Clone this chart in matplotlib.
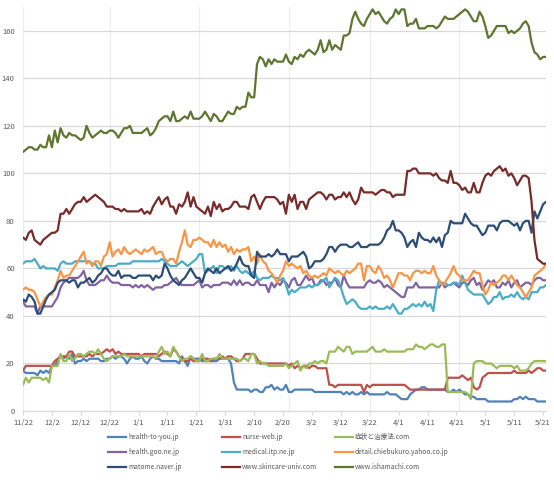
import pandas as pd
import matplotlib
matplotlib.use("Agg")
import matplotlib.pyplot as plt
from matplotlib.lines import Line2D

plt.rcParams["font.family"] = ["Noto Sans CJK JP", "DejaVu Sans"]

# daily values, 11/22 .. 5/22
DATES = pd.date_range("2014-11-22", "2015-05-22", freq="D")

SITES = ["health-to-you.jp", "nurse-web.jp", "症状と治療法.com",
         "health.goo.ne.jp", "medical.itp.ne.jp", "detail.chiebukuro.yahoo.co.jp",
         "matome.naver.jp", "www.skincare-univ.com", "www.ishamachi.com"]
COLORS = ["#4F81BD", "#C0504D", "#9BBB59",
          "#8064A2", "#4BACC6", "#F79646",
          "#2C4D75", "#772C2A", "#5F7530"]

HEALTH_TO_YOU = [
    17, 16, 16, 16, 16, 15, 17, 16, 17, 16,
    19, 19, 21, 23, 22, 23, 22, 24, 20, 21,
    21, 22, 21, 22, 22, 22, 22, 21, 21, 22,
    22, 23, 22, 23, 23, 22, 20, 22, 23, 22,
    22, 23, 21, 20, 22, 23, 22, 22, 21, 21,
    21, 21, 21, 21, 20, 23, 21, 19, 23, 22,
    22, 22, 21, 21, 21, 21, 21, 21, 22, 22,
    22, 22, 20, 12, 9, 9, 9, 9, 9, 8,
    9, 9, 8, 8, 10, 10, 11, 9, 10, 9,
    9, 11, 8, 8, 9, 9, 9, 9, 9, 9,
    9, 8, 8, 8, 8, 8, 8, 8, 8, 8,
    8, 7, 8, 7, 8, 7, 7, 8, 7, 8,
    7, 7, 7, 7, 7, 7, 8, 7, 7, 7,
    6, 5, 5, 5, 7, 8, 9, 9, 10, 10,
    9, 9, 9, 9, 9, 9, 9, 8, 8, 9,
    8, 9, 8, 7, 7, 6, 6, 5, 5, 5,
    5, 4, 4, 4, 4, 4, 4, 4, 4, 4,
    5, 5, 6, 5, 6, 5, 5, 5, 4, 4,
    4, 4,
]
NURSE_WEB = [
    17, 19, 19, 19, 19, 19, 19, 19, 19, 19,
    19, 21, 22, 23, 23, 23, 25, 25, 23, 23,
    23, 23, 23, 24, 23, 24, 24, 24, 25, 26,
    25, 26, 24, 25, 24, 24, 24, 24, 24, 24,
    24, 23, 24, 24, 24, 24, 24, 23, 24, 25,
    24, 23, 26, 25, 23, 22, 21, 21, 22, 21,
    21, 21, 22, 22, 22, 21, 22, 22, 22, 23,
    22, 23, 23, 22, 21, 21, 22, 24, 24, 24,
    24, 22, 20, 20, 20, 20, 20, 20, 20, 20,
    20, 20, 19, 20, 18, 19, 18, 19, 19, 18,
    19, 19, 18, 18, 18, 18, 11, 11, 10, 11,
    11, 11, 11, 11, 11, 11, 11, 11, 8, 11,
    10, 11, 11, 11, 11, 11, 11, 11, 11, 11,
    11, 11, 11, 10, 9, 9, 9, 9, 9, 9,
    9, 9, 9, 9, 9, 9, 9, 14, 14, 14,
    14, 14, 15, 14, 13, 14, 10, 9, 10, 14,
    15, 16, 16, 16, 16, 16, 16, 16, 16, 16,
    17, 16, 16, 16, 16, 17, 16, 17, 18, 18,
    17, 17,
]
SHOJO = [
    11, 14, 12, 14, 14, 14, 14, 13, 14, 12,
    19, 19, 19, 24, 21, 21, 24, 21, 22, 24,
    24, 23, 24, 25, 25, 24, 26, 24, 22, 21,
    22, 23, 23, 23, 23, 24, 23, 23, 23, 23,
    23, 23, 23, 23, 23, 23, 22, 25, 27, 24,
    25, 23, 27, 25, 23, 21, 22, 22, 23, 22,
    21, 21, 24, 21, 21, 22, 22, 22, 24, 22,
    22, 22, 22, 22, 22, 21, 22, 22, 21, 24,
    24, 20, 21, 20, 20, 19, 19, 19, 19, 19,
    19, 20, 18, 19, 20, 21, 17, 19, 18, 20,
    20, 21, 20, 21, 21, 20, 25, 25, 25, 27,
    26, 25, 27, 27, 24, 25, 25, 25, 25, 25,
    26, 27, 25, 25, 25, 26, 25, 25, 25, 25,
    25, 25, 25, 26, 26, 26, 28, 27, 27, 26,
    27, 28, 28, 27, 27, 28, 28, 8, 8, 8,
    8, 8, 8, 8, 7, 5, 20, 21, 21, 21,
    20, 20, 20, 19, 18, 19, 19, 19, 19, 19,
    18, 19, 17, 17, 17, 18, 20, 21, 21, 21,
    21, 21,
]
HEALTH_GOO = [
    46, 44, 44, 44, 44, 41, 44, 44, 44, 44,
    44, 46, 48, 52, 54, 55, 56, 56, 56, 56,
    57, 59, 55, 53, 53, 53, 54, 55, 55, 57,
    55, 54, 54, 54, 53, 53, 53, 53, 52, 53,
    52, 53, 52, 53, 52, 51, 52, 52, 52, 53,
    53, 54, 55, 56, 54, 53, 53, 53, 53, 53,
    54, 55, 52, 53, 53, 52, 53, 53, 53, 54,
    54, 54, 53, 55, 53, 55, 53, 54, 54, 53,
    53, 55, 53, 53, 53, 50, 54, 52, 54, 53,
    55, 54, 52, 55, 56, 53, 53, 55, 57, 55,
    56, 53, 53, 55, 55, 53, 54, 54, 56, 53,
    52, 57, 54, 52, 52, 52, 52, 52, 52, 54,
    55, 54, 54, 55, 54, 52, 53, 52, 51, 50,
    49, 48, 48, 52, 52, 52, 54, 52, 52, 52,
    52, 52, 52, 52, 52, 54, 52, 53, 53, 54,
    53, 52, 54, 54, 53, 55, 56, 53, 54, 51,
    53, 55, 54, 55, 52, 52, 54, 53, 55, 52,
    54, 55, 52, 53, 54, 54, 53, 55, 56, 56,
    55, 55,
]
MEDICAL_ITP = [
    62, 63, 63, 63, 64, 62, 60, 61, 60, 60,
    60, 60, 59, 62, 63, 62, 62, 62, 63, 63,
    63, 63, 63, 63, 62, 62, 60, 60, 60, 61,
    61, 61, 61, 62, 62, 62, 62, 62, 63, 63,
    63, 63, 63, 63, 63, 63, 63, 63, 64, 63,
    62, 61, 61, 61, 62, 63, 62, 61, 62, 63,
    64, 66, 66, 58, 59, 60, 61, 58, 61, 61,
    60, 60, 61, 59, 61, 59, 58, 59, 58, 57,
    59, 56, 55, 56, 56, 56, 57, 56, 56, 55,
    56, 53, 49, 51, 50, 51, 52, 52, 52, 53,
    52, 53, 53, 54, 55, 56, 52, 54, 56, 55,
    52, 48, 45, 46, 47, 46, 44, 43, 43, 43,
    44, 43, 44, 43, 43, 43, 44, 43, 45, 43,
    41, 41, 43, 43, 44, 45, 44, 45, 44, 46,
    44, 45, 42, 51, 55, 53, 54, 53, 53, 54,
    54, 53, 57, 54, 51, 50, 49, 49, 49, 49,
    47, 45, 46, 48, 48, 50, 47, 48, 48, 49,
    48, 50, 48, 47, 48, 47, 50, 50, 50, 52,
    52, 53,
]
CHIEBUKURO = [
    51, 52, 51, 51, 50, 47, 44, 46, 48, 49,
    49, 52, 55, 59, 56, 57, 57, 59, 61, 63,
    65, 67, 62, 63, 61, 63, 63, 61, 65, 66,
    71, 65, 67, 68, 66, 69, 67, 66, 67, 68,
    67, 66, 68, 67, 68, 69, 66, 67, 67, 64,
    63, 64, 64, 62, 67, 71, 76, 70, 69, 72,
    72, 73, 72, 71, 71, 69, 72, 69, 71, 69,
    70, 67, 69, 66, 68, 67, 68, 68, 69, 63,
    65, 62, 66, 63, 62, 59, 58, 56, 54, 57,
    59, 63, 61, 62, 61, 60, 61, 58, 59, 57,
    56, 57, 56, 57, 58, 57, 60, 59, 58, 59,
    58, 57, 59, 58, 59, 60, 62, 62, 55, 61,
    61, 59, 58, 61, 59, 56, 57, 55, 52, 55,
    58, 58, 57, 57, 55, 58, 59, 59, 58, 59,
    58, 58, 61, 57, 55, 53, 54, 56, 58, 61,
    58, 57, 55, 55, 55, 57, 59, 58, 58, 53,
    49, 51, 54, 53, 54, 55, 57, 57, 55, 57,
    55, 53, 52, 50, 48, 50, 52, 57, 58, 59,
    60, 62,
]
MATOME = [
    47, 46, 49, 48, 46, 41, 41, 44, 47, 49,
    50, 51, 54, 55, 55, 55, 54, 55, 55, 52,
    54, 54, 55, 56, 54, 55, 57, 58, 60, 60,
    58, 57, 57, 59, 56, 57, 57, 57, 56, 56,
    57, 57, 57, 57, 57, 55, 57, 56, 57, 62,
    60, 57, 55, 54, 53, 55, 56, 58, 60, 58,
    56, 56, 54, 58, 60, 59, 58, 60, 58, 59,
    60, 61, 59, 60, 62, 65, 62, 61, 61, 57,
    56, 67, 65, 65, 65, 66, 65, 66, 68, 66,
    66, 66, 63, 65, 65, 65, 66, 67, 65, 60,
    61, 63, 63, 63, 64, 66, 69, 69, 67, 69,
    70, 70, 70, 69, 69, 70, 71, 69, 69, 69,
    70, 70, 70, 70, 71, 73, 76, 77, 80, 76,
    76, 75, 73, 69, 71, 72, 69, 75, 73, 72,
    72, 71, 73, 71, 73, 69, 74, 75, 80, 79,
    79, 79, 79, 83, 81, 79, 78, 78, 76, 74,
    75, 78, 78, 78, 76, 79, 80, 80, 80, 79,
    78, 79, 76, 79, 80, 80, 75, 84, 81, 84,
    87, 88,
]
SKINCARE = [
    73, 72, 75, 76, 72, 71, 70, 72, 73, 74,
    75, 75, 76, 83, 83, 85, 83, 85, 87, 88,
    88, 90, 88, 89, 90, 91, 90, 89, 88, 86,
    86, 86, 85, 85, 84, 85, 84, 84, 84, 84,
    84, 85, 83, 84, 83, 86, 88, 90, 87, 89,
    90, 86, 86, 83, 87, 86, 88, 92, 86, 90,
    86, 85, 84, 83, 86, 82, 88, 85, 87, 84,
    85, 85, 86, 88, 88, 86, 86, 86, 85, 90,
    91, 88, 85, 88, 90, 90, 90, 90, 89, 87,
    88, 83, 91, 88, 91, 85, 88, 88, 85, 89,
    90, 91, 92, 92, 91, 89, 91, 91, 89, 90,
    90, 92, 90, 92, 89, 87, 89, 94, 92, 92,
    92, 92, 91, 92, 93, 93, 92, 92, 90, 91,
    91, 91, 91, 101, 101, 102, 102, 100, 100, 100,
    100, 100, 99, 100, 98, 97, 97, 96, 101, 96,
    96, 95, 93, 94, 92, 92, 96, 92, 92, 96,
    99, 100, 99, 101, 102, 103, 101, 102, 99, 100,
    98, 95, 97, 99, 99, 98, 88, 72, 64, 63,
    62, 62,
]
ISHAMACHI = [
    109, 110, 111, 111, 110, 110, 112, 111, 111, 116,
    111, 118, 113, 119, 116, 115, 117, 116, 116, 115,
    114, 115, 120, 117, 115, 116, 117, 118, 117, 117,
    118, 118, 117, 115, 117, 119, 119, 120, 117, 117,
    117, 117, 118, 119, 116, 117, 119, 122, 123, 124,
    124, 122, 126, 122, 122, 123, 124, 123, 126, 123,
    123, 123, 124, 126, 124, 122, 125, 124, 122, 122,
    124, 126, 125, 125, 128, 127, 128, 128, 134, 132,
    132, 146, 149, 148, 145, 148, 146, 148, 147, 147,
    147, 150, 147, 146, 149, 148, 150, 149, 151, 152,
    151, 150, 152, 156, 151, 152, 156, 152, 154, 153,
    152, 158, 158, 159, 165, 168, 165, 163, 162, 165,
    167, 169, 167, 168, 166, 164, 163, 165, 166, 169,
    167, 169, 169, 162, 163, 163, 165, 161, 161, 161,
    162, 162, 162, 161, 162, 164, 166, 165, 165, 165,
    166, 167, 168, 169, 168, 166, 164, 164, 168, 166,
    162, 157, 158, 160, 162, 162, 162, 162, 159, 160,
    159, 160, 161, 163, 164, 162, 155, 151, 150, 148,
    149, 149,
]

SERIES = [HEALTH_TO_YOU, NURSE_WEB, SHOJO,
          HEALTH_GOO, MEDICAL_ITP, CHIEBUKURO,
          MATOME, SKINCARE, ISHAMACHI]

W, H = 554, 480
TXT = "#595959"


def main():
    fig = plt.figure(figsize=(W / 100, H / 100), dpi=100)
    ax = fig.add_axes([23 / W, 1 - 411 / H, (546 - 23) / W, (411 - 7) / H])

    # grid: horizontal every 20, vertical on the 22nd of each month
    ax.set_axisbelow(True)
    ax.yaxis.grid(True, color="#D9D9D9", lw=0.9)
    for d in DATES[DATES.day == 22]:
        ax.axvline(d, color="#EDEDED", lw=0.9, zorder=0)

    for vals, name, col in zip(SERIES, SITES, COLORS):
        ax.plot(DATES, vals, color=col, lw=1.6, label=name,
                solid_joinstyle="round", solid_capstyle="round")

    ax.set_xlim(DATES[0], DATES[-1])
    ax.set_ylim(0, 170)
    ax.set_yticks(range(0, 161, 20))
    ticks = DATES[::10]
    ax.set_xticks(ticks)
    ax.set_xticklabels([f"{d.month}/{d.day}" for d in ticks])

    for s in ["top", "right", "left"]:
        ax.spines[s].set_visible(False)
    ax.spines["bottom"].set_color("#D9D9D9")
    ax.spines["bottom"].set_linewidth(0.9)

    ax.tick_params(axis="x", colors="#D9D9D9", length=3, width=0.8,
                   labelcolor=TXT, labelsize=5.5, pad=2.5)
    ax.tick_params(axis="y", length=0, labelcolor=TXT, labelsize=5.5, pad=6)

    # legend, 3 x 3 grid under the chart
    col_x = [108, 222, 335]
    row_y = [437, 452, 467]
    for i, (name, col) in enumerate(zip(SITES, COLORS)):
        x0, y0 = col_x[i % 3], row_y[i // 3]
        fig.add_artist(Line2D([x0 / W, (x0 + 18) / W], [1 - y0 / H, 1 - y0 / H],
                              color=col, lw=1.6, transform=fig.transFigure))
        fig.text((x0 + 20) / W, 1 - y0 / H, name, color=TXT, fontsize=4.8,
                 ha="left", va="center")

    fig.savefig("out.png", dpi=100)
    plt.close(fig)


if __name__ == "__main__":
    main()
